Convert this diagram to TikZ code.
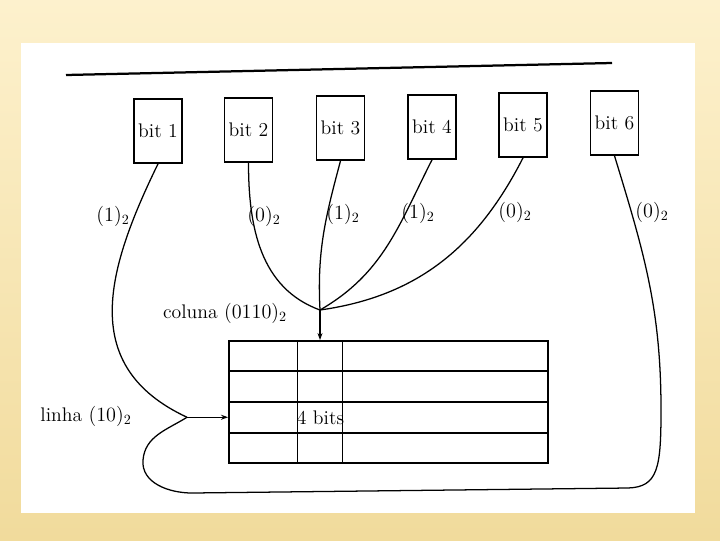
\documentclass[tikz,border=0pt]{standalone}
\usetikzlibrary{arrows.meta,calc}
\definecolor{bgtop}{HTML}{FDF1CD}
\definecolor{bgbot}{HTML}{F1DB9C}
\begin{document}
\begin{tikzpicture}[x=0.025cm,y=-0.025cm,
  bitbox/.style={draw, line width=1.2pt, minimum width=1.2cm, minimum height=1.6cm, inner sep=2pt, font={\fontsize{14}{16}\selectfont}},
  lbl/.style={inner sep=1pt, font={\fontsize{14}{16}\selectfont}},
  wire/.style={line width=0.9pt},
  tip/.style={-{Stealth[length=5pt,width=3.5pt]}}
]
\shade[top color=bgtop, bottom color=bgbot] (0,0) rectangle (720,540);
\fill[white] (21,43) rectangle (695,513);
\useasboundingbox (0,0) rectangle (720,540);
\draw[line width=1.6pt] (66,75) -- (612,63);
\node[bitbox] (b1) at (158,131) {bit 1};
\node[bitbox] (b2) at (248.5,130) {bit 2};
\node[bitbox] (b3) at (340.5,128) {bit 3};
\node[bitbox] (b4) at (432,127) {bit 4};
\node[bitbox] (b5) at (523,125) {bit 5};
\node[bitbox] (b6) at (614.5,123) {bit 6};
\node[draw, line width=1.2pt, minimum width=7.975cm, minimum height=3.05cm, inner sep=0pt] (tab) at (388.5,402) {};
\foreach \k in {1,2,3}
  \draw[line width=1.2pt] ($(tab.north west)!\k/4!(tab.south west)$) -- ($(tab.north east)!\k/4!(tab.south east)$);
\foreach \dx in {1.725,2.85}
  \draw[line width=0.8pt] ([xshift=\dx cm]tab.north west) -- ([xshift=\dx cm]tab.south west);
\node[lbl] (cell) at (320.5,418) {4 bits};
\coordinate (jrow) at (187,417.25);
\coordinate (jcol) at (320,310);
\coordinate (loopR) at (661,410);
\coordinate (loopB) at (628,488);
\coordinate (loopL) at (192,493);
\coordinate (loopW) at (143,460);
% bits to column and row
\draw[wire] (b1.south) to[out=244,in=155,looseness=1.2] (jrow);
\draw[wire,tip] (jrow) -- (jrow -| tab.west);
\draw[wire] (b2.south) to[out=270,in=160] (jcol);
\draw[wire] (b3.south) to[out=255,in=93] (jcol);
\draw[wire] (b4.south) to[out=243,in=30] (jcol);
\draw[wire] (b5.south) to[out=243,in=8] (jcol);
\draw[wire,tip] (jcol) -- (jcol |- tab.north);
\draw[wire] (b6.south) to[out=287,in=90] (loopR) .. controls (661,468) and (658,487) .. (loopB)
  -- (loopL) to[out=180,in=265] (loopW) to[out=85,in=212] (jrow);
% labels
\node[lbl] (l1) at (113,216) {$(1)_2$};
\node[lbl] (l2) at (264,216) {$(0)_2$};
\node[lbl] (l3) at (343,214) {$(1)_2$};
\node[lbl] (l4) at (418,213) {$(1)_2$};
\node[lbl] (l5) at (515,212) {$(0)_2$};
\node[lbl] (l6) at (652,212) {$(0)_2$};
\node[lbl] (col) at (225,313) {coluna $(0110)_2$};
\node[lbl] (row) at (86,416) {linha $(10)_2$};
\end{tikzpicture}
\end{document}
